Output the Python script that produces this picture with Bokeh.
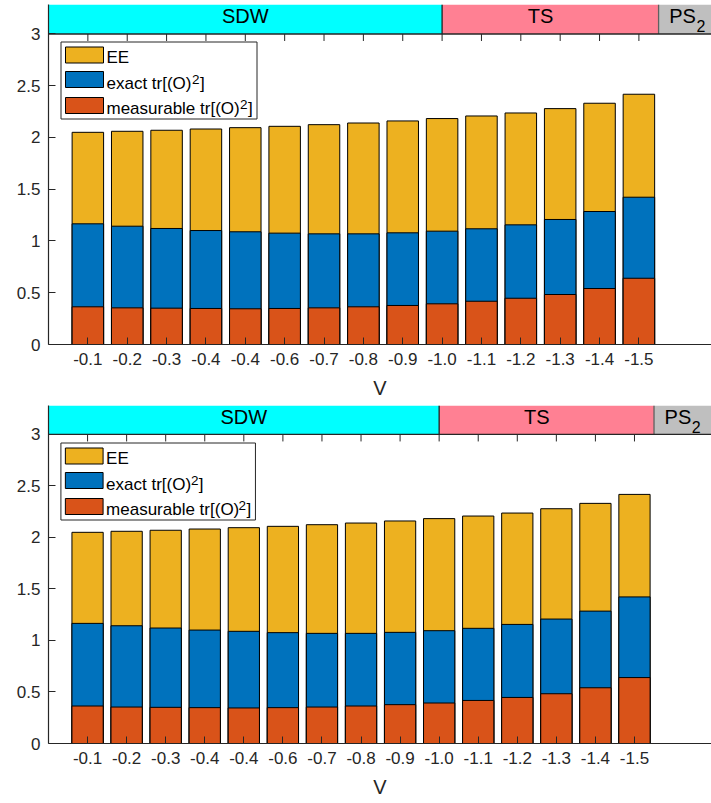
from bokeh.plotting import figure
from bokeh.layouts import column
from bokeh.models import FixedTicker, Label, BoxAnnotation, Range1d, Span
from bokeh.embed import file_html
from bokeh.resources import INLINE

# ---- data -------------------------------------------------------------
v_labels = ["-0.1", "-0.2", "-0.3", "-0.4", "-0.4", "-0.6", "-0.7", "-0.8",
            "-0.9", "-1.0", "-1.1", "-1.2", "-1.3", "-1.4", "-1.5"]
ee = [2.050, 2.060, 2.070, 2.082, 2.095, 2.108, 2.124, 2.140,
      2.160, 2.183, 2.208, 2.237, 2.279, 2.331, 2.418]
exact = [1.166, 1.143, 1.121, 1.101, 1.089, 1.076, 1.069, 1.069,
         1.079, 1.095, 1.118, 1.156, 1.208, 1.285, 1.423]
measurable = [0.364, 0.354, 0.351, 0.348, 0.345, 0.348, 0.354, 0.364,
              0.377, 0.393, 0.418, 0.447, 0.483, 0.541, 0.640]

# phase bands drawn above the bars
phase_names = ["SDW", "TS", "PS"]
phase_start = [0, 10, 15.5]
phase_end = [10, 15.5, 17]
phase_label_x = [5, 12.5, 15.77]
phase_colors = ["#00FFFF", "#FF8093", "#BFBFBF"]

y_ticks = [0, 0.5, 1, 1.5, 2, 2.5, 3]
y_tick_text = ["0", "0.5", "1", "1.5", "2", "2.5", "3"]

series = [("EE", ee, "#EDB120"),
          ("exact tr[(O)", exact, "#0072BD"),
          ("measurable tr[(O)", measurable, "#D95319")]

FONT = "Liberation Sans"
INK = "#262626"
BAR_STEP = 39.36          # pixels between neighbouring bars
Y_MAX = 3                 # top of the value axis; the band sits above it


def make_panel(left, top, frame_h, bottom, y_top):
    width = 711
    frame_w = width - left
    x_end = frame_w / BAR_STEP
    yscale = frame_h / y_top
    xscale = frame_w / x_end

    def X(px):
        return px / xscale

    def Y(py):
        return y_top - py / yscale

    def text(x, y, s, size, align="left"):
        p.add_layout(Label(x=x, y=y, text=s, text_align=align,
                           text_baseline="middle", text_font=FONT,
                           text_font_size=size, text_color="black"))

    p = figure(width=width, height=top + frame_h + bottom,
               x_range=Range1d(0, x_end), y_range=Range1d(0, y_top),
               output_backend="svg", toolbar_location=None, tools="",
               min_border_left=left, min_border_right=0,
               min_border_top=top, min_border_bottom=bottom)
    p.outline_line_color = None
    p.grid.visible = False
    p.background_fill_color = "white"
    p.border_fill_color = "white"

    positions = list(range(1, len(v_labels) + 1))

    # overlaid bars, largest first
    for name, vals, col in series:
        p.vbar(x=positions, top=vals, width=0.8, bottom=0,
               fill_color=col, line_color="black", line_width=1)

    # phase band
    p.quad(left=phase_start, right=phase_end,
           bottom=[Y_MAX] * len(phase_start), top=[y_top] * len(phase_start),
           fill_color=phase_colors, line_color=None)
    p.segment(x0=phase_start[1:], x1=phase_start[1:],
              y0=[Y_MAX] * 2, y1=[y_top] * 2,
              line_color=["#202020", "#606060"], line_width=1.3)
    p.add_layout(Span(location=Y_MAX, dimension="width",
                      line_color=INK, line_width=1.3))

    # inward ticks along the top edge of the value area
    p.segment(x0=positions, x1=positions,
              y0=[Y_MAX] * len(positions),
              y1=[Y_MAX - 7 / yscale] * len(positions),
              line_color=INK, line_width=1)

    for name, lx in zip(phase_names, phase_label_x):
        text(lx, Y(11.5), name, "20px",
             align="left" if name == "PS" else "center")
    # subscript of PS
    text(phase_label_x[2] + X(27.3), Y(21.8), "2", "16px")

    # axes
    xa = p.xaxis[0]
    xa.ticker = FixedTicker(ticks=positions)
    xa.major_label_overrides = {i: lab for i, lab in zip(positions, v_labels)}
    xa.axis_label = "V"
    ya = p.yaxis[0]
    ya.ticker = FixedTicker(ticks=y_ticks)
    ya.major_label_overrides = {t: s for t, s in zip(y_ticks, y_tick_text)}
    for ax in (xa, ya):
        ax.major_tick_in = 7
        ax.major_tick_out = 0
        ax.minor_tick_line_color = None
        ax.axis_line_color = INK
        ax.axis_line_width = 1.2
        ax.major_tick_line_color = INK
        ax.major_label_text_font = FONT
        ax.major_label_text_font_size = "17px"
        ax.major_label_text_color = INK
        ax.major_label_standoff = 8
    xa.axis_label_text_font = FONT
    xa.axis_label_text_font_size = "20px"
    xa.axis_label_text_font_style = "normal"
    xa.axis_label_text_color = INK
    xa.axis_label_standoff = 9

    # legend box
    p.add_layout(BoxAnnotation(left=X(12.5), right=X(208.5),
                               top=Y(37.5), bottom=Y(114.5),
                               fill_color="white", fill_alpha=1,
                               line_color=INK, line_width=1, line_alpha=1))
    swatch_mid = [50.5, 75, 101]
    text_mid = [52.5, 79.4, 104.4]
    sup_x = [None, 143.5, 191.5]
    for (name, vals, col), mid, tm, sx in zip(series, swatch_mid, text_mid, sup_x):
        p.add_layout(BoxAnnotation(left=X(17), right=X(55),
                                   top=Y(mid - 8), bottom=Y(mid + 8),
                                   fill_color=col, fill_alpha=1,
                                   line_color="black", line_width=1,
                                   line_alpha=1))
        text(X(58), Y(tm), name, "17px")
        if sx is not None:
            text(X(sx), Y(tm - 4.7), "2", "13.5px")
            text(X(sx + 8), Y(tm), "]", "17px")
    return p


top_panel = make_panel(left=48, top=4, frame_h=340, bottom=61, y_top=3.285)
bottom_panel = make_panel(left=43, top=0, frame_h=338, bottom=60, y_top=3.281)

layout = column(top_panel, bottom_panel, spacing=0)
open("out.html", "w").write(file_html(layout, INLINE))
